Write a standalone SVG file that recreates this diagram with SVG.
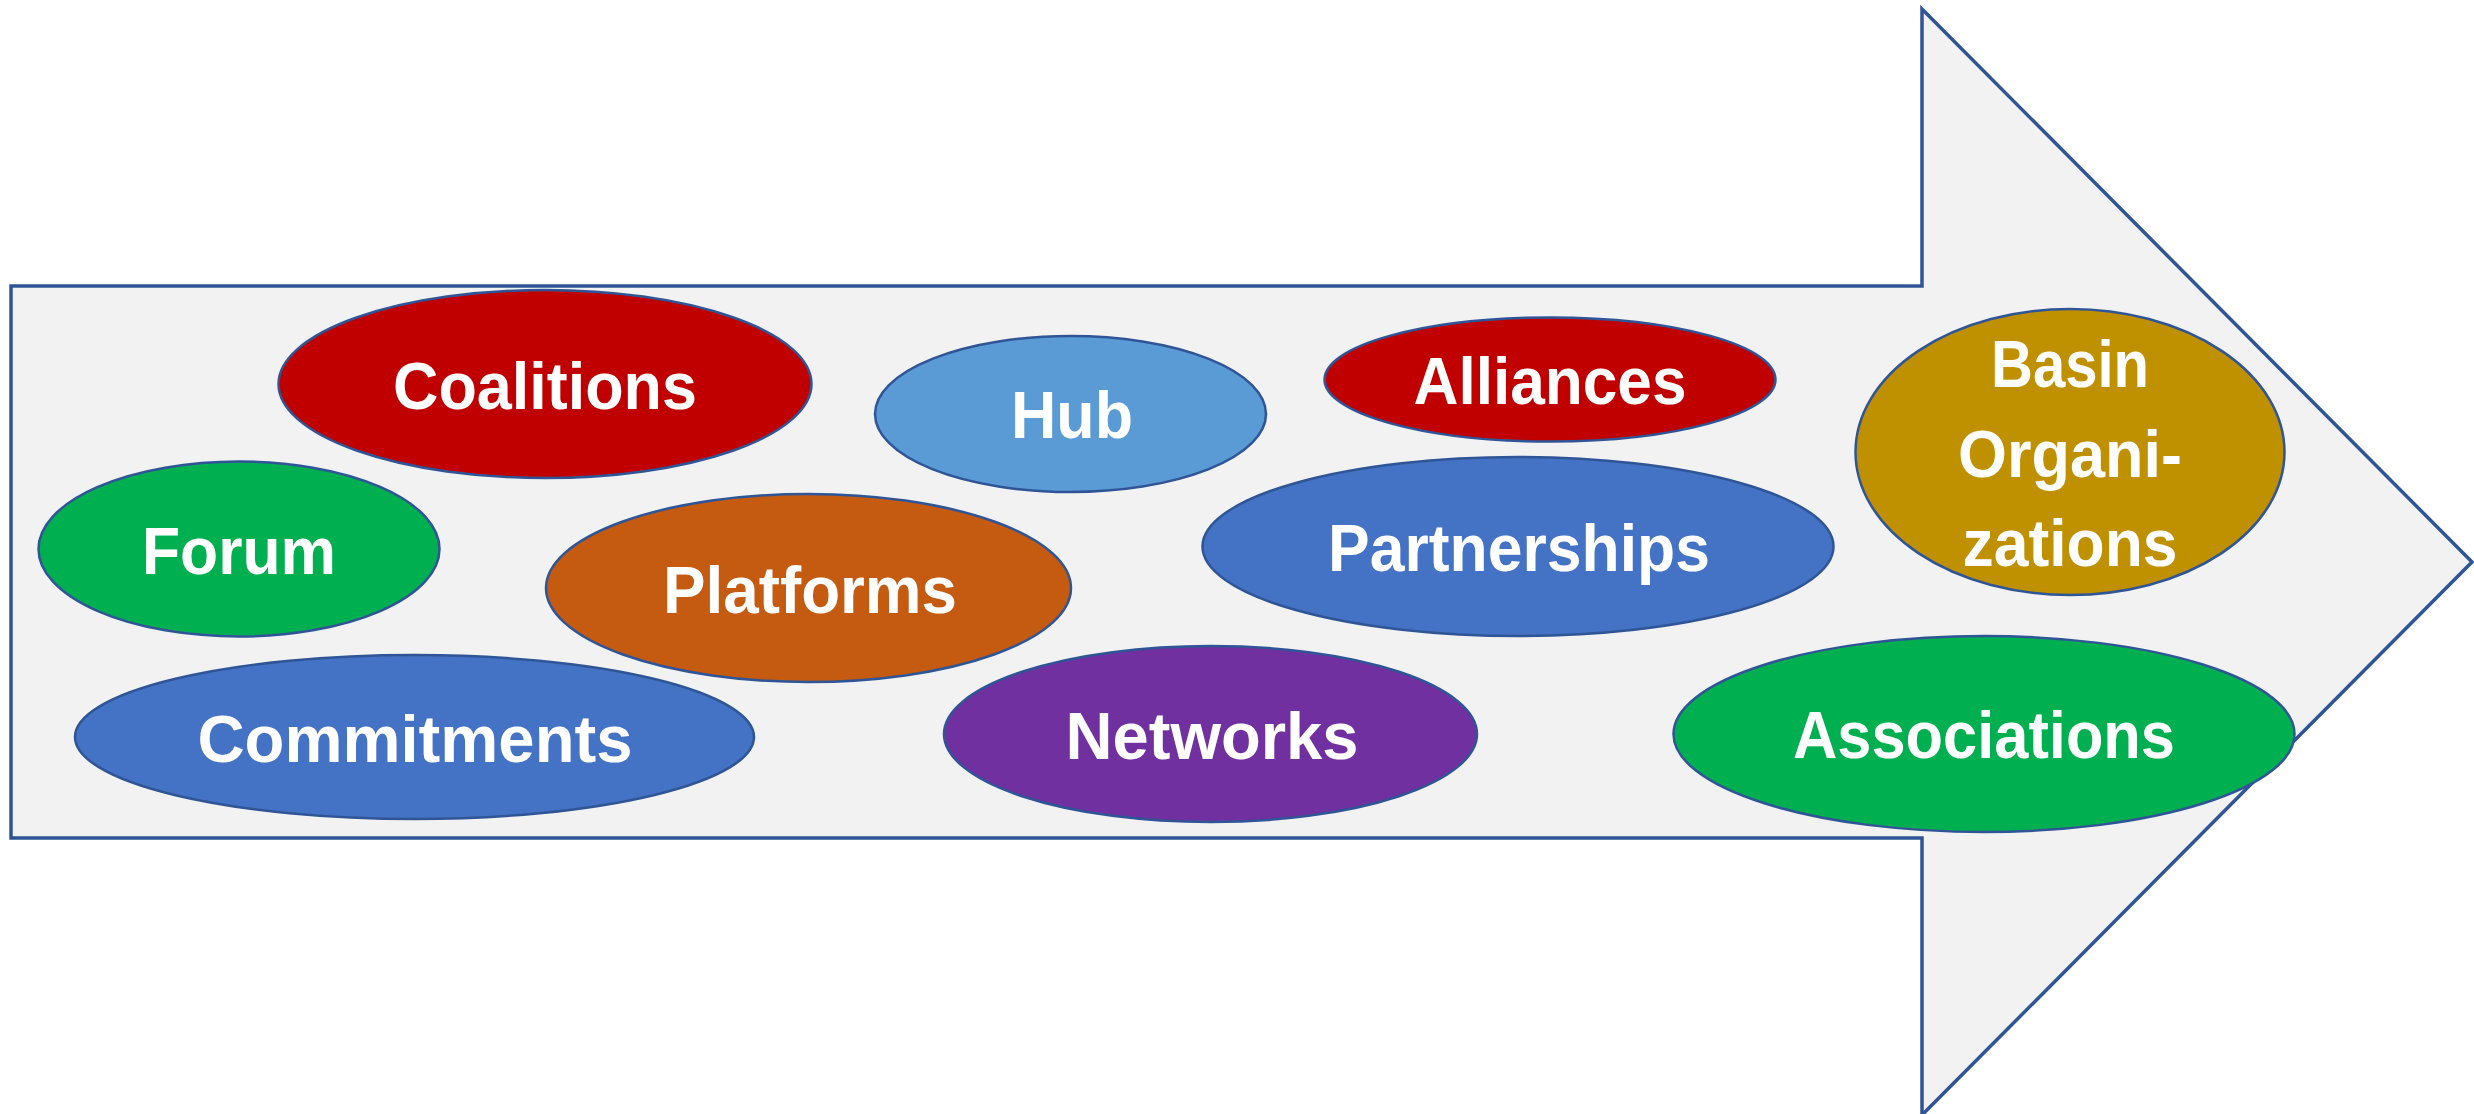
<svg xmlns="http://www.w3.org/2000/svg" width="2474" height="1114" viewBox="0 0 2474 1114">
  <style>
    .arrow { fill: #F2F2F2; stroke: #2F5597; stroke-width: 3.5; stroke-linejoin: miter; }
    .node ellipse { stroke: #2F5597; stroke-width: 2.5; }
    .node text { font-family: "Liberation Sans", Arial, sans-serif; font-weight: bold; font-size: 66px; fill: #FFFFFF; text-anchor: middle; }
    .red { fill: #C00000; }
    .green { fill: #00B050; }
    .blue { fill: #4472C4; }
    .lightblue { fill: #5B9BD5; }
    .orange { fill: #C55A11; }
    .purple { fill: #7030A0; }
    .gold { fill: #BF9000; }
  </style>

  <!-- big background arrow -->
  <g id="arrow">
    <polygon class="arrow" points="11,286 1922,286 1922,9 2472,562 1922,1115 1922,838 11,838"/>
  </g>

  <!-- no connectors in this figure -->
  <g id="connectors"/>

  <g id="coalitions" class="node">
    <ellipse class="red" cx="545" cy="384" rx="266.5" ry="94"/>
    <text x="545" y="409" textLength="304" lengthAdjust="spacingAndGlyphs">Coalitions</text>
  </g>

  <g id="forum" class="node">
    <ellipse class="green" cx="239" cy="549" rx="200.5" ry="87.5"/>
    <text x="239" y="573.5" textLength="194" lengthAdjust="spacingAndGlyphs">Forum</text>
  </g>

  <g id="commitments" class="node">
    <ellipse class="blue" cx="414.5" cy="737" rx="339.5" ry="82"/>
    <text x="415" y="761.5" textLength="435" lengthAdjust="spacingAndGlyphs">Commitments</text>
  </g>

  <g id="platforms" class="node">
    <ellipse class="orange" cx="808.5" cy="588" rx="262.5" ry="94"/>
    <text x="810" y="613" textLength="294" lengthAdjust="spacingAndGlyphs">Platforms</text>
  </g>

  <g id="hub" class="node">
    <ellipse class="lightblue" cx="1070.5" cy="414" rx="195.5" ry="78"/>
    <text x="1072" y="438" textLength="122" lengthAdjust="spacingAndGlyphs">Hub</text>
  </g>

  <g id="alliances" class="node">
    <ellipse class="red" cx="1550" cy="379.5" rx="225.5" ry="62"/>
    <text x="1550" y="404" textLength="273" lengthAdjust="spacingAndGlyphs">Alliances</text>
  </g>

  <g id="partnerships" class="node">
    <ellipse class="blue" cx="1518" cy="546.5" rx="315.5" ry="89.5"/>
    <text x="1519" y="571" textLength="382" lengthAdjust="spacingAndGlyphs">Partnerships</text>
  </g>

  <g id="networks" class="node">
    <ellipse class="purple" cx="1210.5" cy="734" rx="266.5" ry="88"/>
    <text x="1212" y="759" textLength="293" lengthAdjust="spacingAndGlyphs">Networks</text>
  </g>

  <g id="basin-organizations" class="node">
    <ellipse class="gold" cx="2070" cy="452" rx="214.5" ry="143"/>
    <text x="2070" y="387" textLength="158" lengthAdjust="spacingAndGlyphs">Basin</text>
    <text x="2070" y="477" textLength="224" lengthAdjust="spacingAndGlyphs">Organi-</text>
    <text x="2070" y="566" textLength="215" lengthAdjust="spacingAndGlyphs">zations</text>
  </g>

  <g id="associations" class="node">
    <ellipse class="green" cx="1984" cy="734" rx="310.5" ry="98"/>
    <text x="1984" y="758" textLength="382" lengthAdjust="spacingAndGlyphs">Associations</text>
  </g>
</svg>
